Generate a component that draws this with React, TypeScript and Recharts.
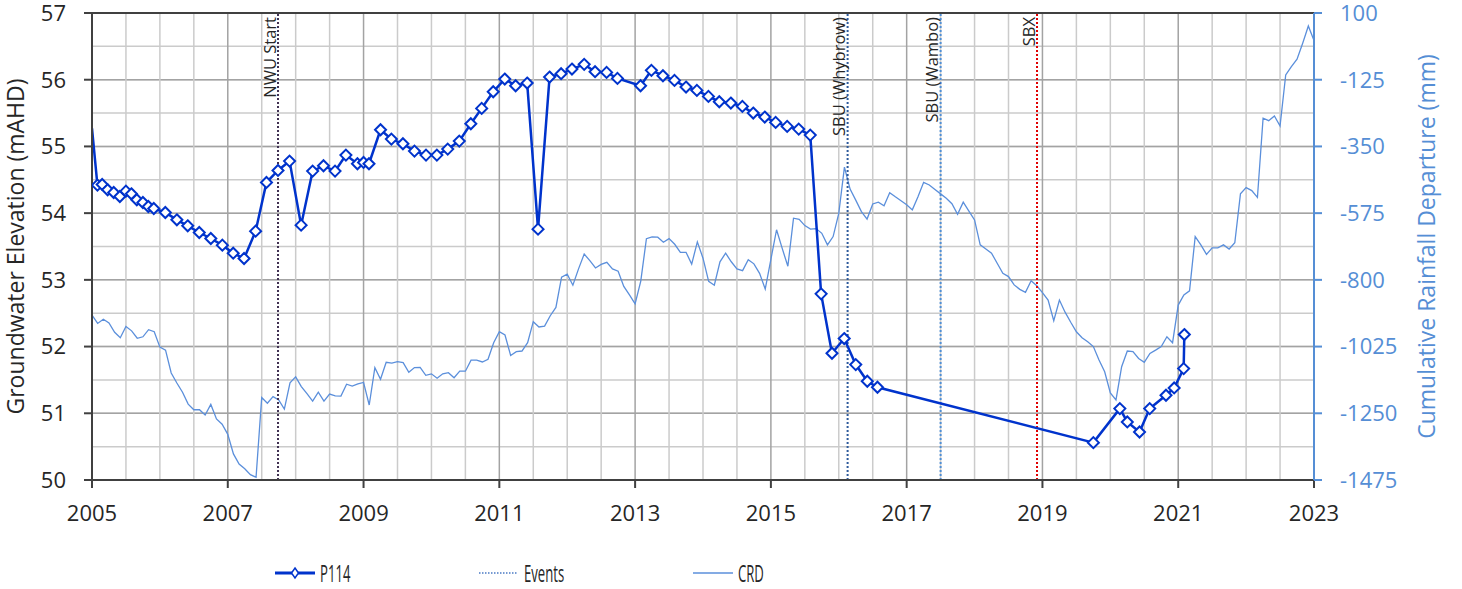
import React from 'react';
import {
  ComposedChart,
  Line,
  XAxis,
  YAxis,
  CartesianGrid,
  ReferenceLine,
  Legend,
} from 'recharts';

const FONT = '"Open Sans", "Noto Sans", sans-serif';

// ---------- DATA ----------
const p114Dates = [
  2005.0, 2005.08, 2005.15, 2005.23, 2005.32, 2005.41, 2005.5, 2005.58, 2005.66, 2005.75, 2005.83, 2005.91,
  2006.08, 2006.25, 2006.41, 2006.58, 2006.75, 2006.92, 2007.08, 2007.24, 2007.41, 2007.57, 2007.74, 2007.91,
  2008.08, 2008.25, 2008.41, 2008.58, 2008.74, 2008.91, 2009.0, 2009.08, 2009.25, 2009.41, 2009.58, 2009.75,
  2009.92, 2010.08, 2010.24, 2010.41, 2010.58, 2010.74, 2010.91, 2011.08, 2011.24, 2011.41, 2011.57, 2011.74,
  2011.91, 2012.07, 2012.25, 2012.41, 2012.58, 2012.74, 2013.08, 2013.24, 2013.41, 2013.58, 2013.75, 2013.91,
  2014.08, 2014.24, 2014.41, 2014.58, 2014.74, 2014.91, 2015.07, 2015.24, 2015.41, 2015.58, 2015.74, 2015.9,
  2016.08, 2016.25, 2016.42, 2016.57, 2019.75, 2020.14, 2020.25, 2020.43, 2020.58, 2020.82, 2020.94, 2021.08,
  2021.09,
];
const p114Levels = [
  55.27, 54.42, 54.43, 54.35, 54.31, 54.25, 54.33, 54.29, 54.2, 54.16, 54.1, 54.07,
  54.01, 53.9, 53.81, 53.71, 53.62, 53.52, 53.4, 53.32, 53.73, 54.46, 54.64, 54.78,
  53.82, 54.63, 54.71, 54.63, 54.87, 54.74, 54.76, 54.74, 55.25, 55.11, 55.04, 54.93,
  54.87, 54.87, 54.96, 55.08, 55.34, 55.57, 55.82, 56.01, 55.91, 55.95, 53.76, 56.04,
  56.09, 56.16, 56.23, 56.12, 56.11, 56.02, 55.91, 56.14, 56.06, 55.99, 55.89, 55.84,
  55.75, 55.67, 55.65, 55.6, 55.5, 55.44, 55.36, 55.3, 55.26, 55.17, 52.79, 51.9,
  52.12, 51.73, 51.48, 51.39, 50.56, 51.07, 50.87, 50.72, 51.07, 51.27, 51.38, 51.67,
  52.18,
];

// Cumulative rainfall departure, monthly from Jan 2005 to Jan 2023
const crdStartYear = 2005;
const crdValues = [
  -919, -947, -933, -945, -977, -995, -957, -972, -997, -992, -968, -975,
  -1027, -1037, -1114, -1148, -1179, -1219, -1238, -1238, -1256, -1220, -1269, -1287,
  -1321, -1387, -1421, -1437, -1457, -1466, -1197, -1216, -1194, -1205, -1236, -1147,
  -1127, -1160, -1184, -1209, -1179, -1209, -1185, -1191, -1192, -1152, -1158, -1151,
  -1146, -1222, -1096, -1135, -1078, -1081, -1076, -1079, -1112, -1096, -1095, -1122,
  -1117, -1132, -1117, -1113, -1130, -1108, -1108, -1071, -1071, -1077, -1068, -1012,
  -975, -986, -1055, -1042, -1040, -1012, -941, -959, -956, -921, -893, -791,
  -781, -818, -763, -713, -735, -760, -748, -741, -763, -771, -822, -851,
  -881, -804, -661, -655, -656, -673, -661, -680, -707, -707, -747, -672,
  -727, -805, -818, -739, -710, -739, -763, -769, -732, -746, -778, -831,
  -731, -631, -694, -754, -592, -596, -617, -629, -627, -643, -682, -654,
  -576, -420, -494, -531, -570, -595, -544, -538, -550, -506, -520, -533,
  -547, -564, -520, -471, -480, -495, -510, -525, -543, -579, -538, -568,
  -598, -682, -696, -710, -744, -778, -789, -817, -832, -842, -803, -820,
  -843, -868, -938, -868, -909, -943, -975, -995, -1009, -1025, -1070, -1110,
  -1181, -1205, -1093, -1040, -1042, -1065, -1078, -1048, -1037, -1025, -992, -1012,
  -885, -851, -837, -654, -682, -714, -692, -692, -682, -696, -675, -510,
  -489, -499, -522, -255, -263, -247, -281, -109, -81, -56, -2, 56,
  7,
];

const eventNames = ['NWU Start', 'SBU (Whybrow)', 'SBU (Wambo)', 'SBX'];
const eventDates = [2007.74, 2016.13, 2017.5, 2018.92];
const eventColors = ['#403152', '#2e5a9c', '#4f8fd6', '#e00000'];

const xTicks = [2005, 2007, 2009, 2011, 2013, 2015, 2017, 2019, 2021, 2023];
const leftTicks = [50, 51, 52, 53, 54, 55, 56, 57];
const rightTicks = [-1475, -1250, -1025, -800, -575, -350, -125, 100];
const gridYears = [
  2005.5, 2006, 2006.5, 2007, 2007.5, 2008, 2008.5, 2009, 2009.5, 2010, 2010.5, 2011, 2011.5,
  2012, 2012.5, 2013, 2013.5, 2014, 2014.5, 2015, 2015.5, 2016, 2016.5, 2017, 2017.5, 2018, 2018.5,
  2019, 2019.5, 2020, 2020.5, 2021, 2021.5, 2022, 2022.5,
];
const minorYTicks = [50, 50.5, 51, 51.5, 52, 52.5, 53, 53.5, 54, 54.5, 55, 55.5, 56, 56.5, 57];

// ---------- TABLES ----------
const p114Data = p114Dates.map((x, i) => ({ x, p114: p114Levels[i] }));
const crdData = crdValues.map((v, i) => ({ x: crdStartYear + i / 12, crd: v }));

// ---------- STYLE ----------
const P114_COLOR = '#0033cc';
const CRD_COLOR = '#5b8fdb';
const RIGHT_COLOR = '#558ed5';
const AXIS_DARK = '#404040';
const TEXT = '#262626';
const GRID_MINOR = '#cbcbcb';
const GRID_MAJOR = '#a3a3a3';

const DiamondDot = (props: any) => {
  const { cx, cy, index } = props;
  if (index === 0 || cx == null || cy == null) return <g key={`d${index}`} />;
  const r = 5.5;
  return (
    <path
      key={`d${index}`}
      d={`M${cx},${cy - r}L${cx + r},${cy}L${cx},${cy + r}L${cx - r},${cy}Z`}
      fill="#ffffff"
      stroke={P114_COLOR}
      strokeWidth={2}
    />
  );
};

const EventLabel = (props: any) => {
  const { viewBox, text } = props;
  if (!viewBox) return null;
  const x = viewBox.x - 2.5;
  const y = viewBox.y + 4;
  return (
    <text
      x={x}
      y={y}
      transform={`rotate(-90 ${x} ${y})`}
      textAnchor="end"
      fontSize={16.5}
      fontFamily={FONT}
      fill={TEXT}
    >
      {text}
    </text>
  );
};

const AxisTitle = (props: any) => {
  const { viewBox, text, dx, color } = props;
  if (!viewBox) return null;
  const x = viewBox.x + dx;
  const y = viewBox.y + viewBox.height / 2;
  return (
    <text
      x={x}
      y={y}
      transform={`rotate(-90 ${x} ${y})`}
      textAnchor="middle"
      fontSize={23}
      fontFamily={FONT}
      fill={color}
    >
      {text}
    </text>
  );
};

const legendText: React.CSSProperties = {
  position: 'absolute',
  top: 29,
  transform: 'translateY(-50%) scaleX(0.57)',
  transformOrigin: 'left center',
  fontSize: 23,
  fontFamily: FONT,
  color: TEXT,
  whiteSpace: 'nowrap',
  lineHeight: '26px',
};

const LegendContent = () => (
  <div style={{ position: 'relative', width: 1462, height: 44 }}>
    <svg style={{ position: 'absolute', left: 275, top: 22 }} width={42} height={14}>
      <line x1={0} y1={7} x2={40} y2={7} stroke={P114_COLOR} strokeWidth={3} />
      <path d="M20,2L23.5,7L20,12L16.5,7Z" fill="#fff" stroke={P114_COLOR} strokeWidth={1.5} />
    </svg>
    <span style={{ ...legendText, left: 320 }}>P114</span>
    <svg style={{ position: 'absolute', left: 479, top: 22 }} width={40} height={14}>
      <line x1={0} y1={7} x2={38} y2={7} stroke="#4a7ac4" strokeWidth={1.5} strokeDasharray="1.5 1.5" />
    </svg>
    <span style={{ ...legendText, left: 524 }}>Events</span>
    <svg style={{ position: 'absolute', left: 693, top: 22 }} width={42} height={14}>
      <line x1={0} y1={7} x2={40} y2={7} stroke={CRD_COLOR} strokeWidth={1.5} />
    </svg>
    <span style={{ ...legendText, left: 738 }}>CRD</span>
  </div>
);

export default function App() {
  return (
    <div style={{ position: 'absolute', left: 0, top: 0, width: 1462, height: 589, background: '#fff', fontFamily: FONT }}>
      <ComposedChart width={1462} height={589} margin={{ top: 13, right: 0, bottom: 1, left: 0 }}>
        <XAxis
          dataKey="x"
          type="number"
          domain={[2005, 2023]}
          ticks={xTicks}
          allowDataOverflow
          height={64}
          stroke={AXIS_DARK}
          strokeWidth={2}
          tickSize={8}
          tickMargin={17}
          tick={{ fontSize: 22, fill: TEXT, fontFamily: FONT }}
          tickLine={{ stroke: AXIS_DARK, strokeWidth: 2 }}
        />
        <YAxis
          yAxisId="left"
          orientation="left"
          type="number"
          domain={[50, 57]}
          ticks={leftTicks}
          width={92}
          allowDataOverflow
          stroke={AXIS_DARK}
          strokeWidth={2}
          tickSize={8}
          tickMargin={18}
          tick={{ fontSize: 22, fill: TEXT, fontFamily: FONT }}
          tickLine={{ stroke: AXIS_DARK, strokeWidth: 2 }}
          label={<AxisTitle text="Groundwater Elevation (mAHD)" dx={24} color={TEXT} />}
        />
        <YAxis
          yAxisId="right"
          orientation="right"
          type="number"
          domain={[-1475, 100]}
          ticks={rightTicks}
          width={148}
          allowDataOverflow
          stroke={RIGHT_COLOR}
          strokeWidth={2}
          tickSize={8}
          tickMargin={18}
          tick={{ fontSize: 22, fill: RIGHT_COLOR, fontFamily: FONT }}
          tickLine={{ stroke: RIGHT_COLOR, strokeWidth: 2 }}
          label={<AxisTitle text="Cumulative Rainfall Departure (mm)" dx={121} color={RIGHT_COLOR} />}
        />
        {/* hidden helper axes for horizontal gridlines (zero size) */}
        <YAxis yAxisId="gmin" type="number" domain={[50, 57]} ticks={minorYTicks} hide width={0} allowDataOverflow />
        <YAxis yAxisId="gmaj" type="number" domain={[50, 57]} ticks={leftTicks} hide width={0} allowDataOverflow />
        <CartesianGrid yAxisId="gmin" vertical={false} stroke={GRID_MINOR} strokeWidth={1.5} />
        <CartesianGrid yAxisId="gmaj" vertical={false} stroke={GRID_MAJOR} strokeWidth={1.5} />

        {gridYears.map((g) => (
          <ReferenceLine
            key={`gx${g}`}
            yAxisId="left"
            x={g}
            stroke={xTicks.includes(g) ? GRID_MAJOR : GRID_MINOR}
            strokeWidth={1.5}
          />
        ))}

        <ReferenceLine yAxisId="left" y={57} stroke={AXIS_DARK} strokeWidth={2} />

        <Line
          yAxisId="right"
          data={crdData}
          dataKey="crd"
          name="CRD"
          stroke={CRD_COLOR}
          strokeWidth={1.3}
          dot={false}
          activeDot={false}
          isAnimationActive={false}
        />

        {eventDates.map((d, i) => (
          <ReferenceLine
            key={eventNames[i]}
            yAxisId="left"
            x={d}
            stroke={eventColors[i]}
            strokeWidth={2}
            strokeDasharray="2 2"
            label={<EventLabel text={eventNames[i]} />}
          />
        ))}

        <Line
          yAxisId="left"
          data={p114Data}
          dataKey="p114"
          name="P114"
          stroke={P114_COLOR}
          strokeWidth={2.5}
          dot={(p: any) => DiamondDot(p)}
          activeDot={false}
          isAnimationActive={false}
        />

        <Legend verticalAlign="bottom" content={() => <LegendContent />} />
      </ComposedChart>
    </div>
  );
}
